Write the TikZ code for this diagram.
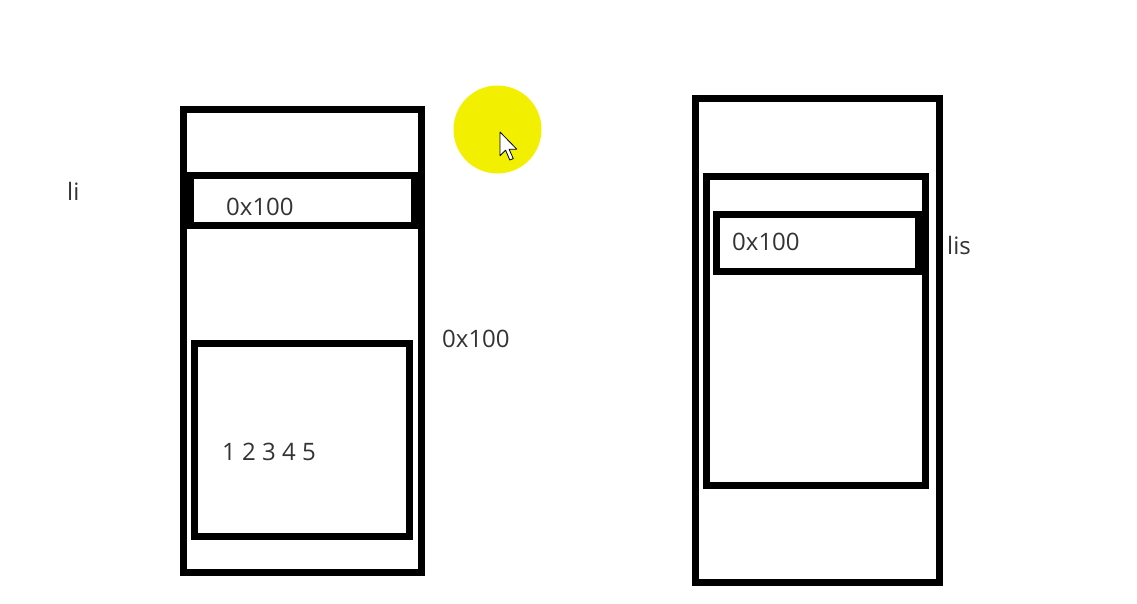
\documentclass[tikz,border=0pt]{standalone}
\usepackage{fontspec}
\setmainfont{Open Sans}
\definecolor{txt}{HTML}{333333}
\definecolor{hl}{HTML}{F2F000}
\begin{document}
\begin{tikzpicture}[x=1pt,y=-1pt,
  box/.style={draw=black,line width=7pt,line join=miter},
  lbl/.style={text=txt,font=\fontsize{24}{27}\selectfont,inner sep=0pt,anchor=west}]
\useasboundingbox (0,0) rectangle (1137,603);
\fill[white] (0,0) rectangle (1137,603);
% highlight + cursor
\fill[hl] (497.5,129.5) circle (44);
\draw[black,line width=0.8pt,fill=white,line join=round,shift={(500,132)},scale=1.4]
  (0,0) -- (0,17) -- (4,13) -- (7,20) -- (9.5,19) -- (6.5,12.3) -- (12,12.3) -- cycle;
% left structure
\draw[box] (183,109) rectangle (421,572);
\draw[box] (190,175) rectangle (414,225.5);
\draw[box] (194.5,343) rectangle (409.5,536.5);
% right structure
\draw[box] (695,98.5) rectangle (939,582.5);
\draw[box] (706,176) rectangle (925,485.5);
\draw[box] (716.5,214.5) rectangle (918.5,271);
% labels
\node[lbl] (li) at (67,191) {li};
\node[lbl] (addrA) at (226,207) {0x100};
\node[lbl] (nums) at (222,452) {1 2 3 4 5};
\node[lbl] (addrB) at (442,338.5) {0x100};
\node[lbl] (addrC) at (732,242) {0x100};
\node[lbl] (lis) at (947,245) {lis};
\end{tikzpicture}
\end{document}
